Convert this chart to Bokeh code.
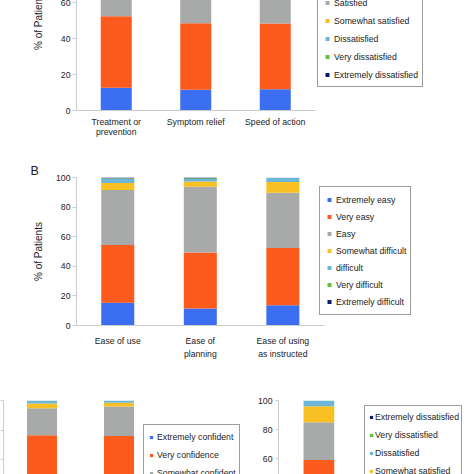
from bokeh.plotting import figure
from bokeh.models import (Range1d, FixedTicker, Legend, LegendItem, ColumnDataSource)
from bokeh.layouts import column, row
from bokeh.embed import file_html
from bokeh.resources import INLINE

FONT = "Liberation Sans"
TXT = "#222222"
AXC = "#cccccc"
COLORS = ["#3b6ef0", "#fd5a1e", "#a8aaa9", "#f9c023", "#6cb6d8", "#62c13b", "#0b1a72"]

# ---------------- Panel A : satisfaction ----------------
a_categories = ["Treatment or\nprevention", "Symptom relief", "Speed of action"]
a_levels = ["Extremely satisfied", "Very satisfied", "Satisfied", "Somewhat satisfied",
            "Dissatisfied", "Very dissatisfied", "Extremely dissatisfied"]
a_extremely_satisfied = [12.6, 11.5, 11.8]
a_very_satisfied = [39.8, 37.0, 36.5]
a_satisfied = [38.6, 41.5, 40.7]
a_somewhat_satisfied = [6.0, 6.5, 7.5]
a_dissatisfied = [2.0, 2.5, 2.5]
a_very_dissatisfied = [0.5, 0.5, 0.5]
a_extremely_dissatisfied = [0.5, 0.5, 0.5]

# ---------------- Panel B : ease ----------------
b_categories = ["Ease of use", "Ease of\nplanning", "Ease of using\nas instructed"]
b_levels = ["Extremely easy", "Very easy", "Easy", "Somewhat difficult", "difficult",
            "Very difficult", "Extremely difficult"]
b_extremely_easy = [15.3, 11.5, 13.7]
b_very_easy = [39.1, 37.9, 38.7]
b_easy = [37.1, 44.3, 37.3]
b_somewhat_difficult = [4.8, 3.6, 7.2]
b_difficult = [2.9, 1.7, 3.1]
b_very_difficult = [0.3, 0.5, 0.0]
b_extremely_difficult = [0.5, 0.5, 0.0]

# ---------------- Panel C : confidence ----------------
c_categories = ["Confidence in\ncorrect use", "Confidence in\neffectiveness"]
c_levels = ["Extremely confident", "Very confidence", "Somewhat confident",
            "Not very confident", "Not at all confident"]
c_extremely_confident = [20.0, 18.0]
c_very_confidence = [56.5, 58.0]
c_somewhat_confident = [18.3, 20.0]
c_not_very_confident = [3.2, 2.4]
c_not_at_all_confident = [2.0, 1.6]

# ---------------- Panel D : overall satisfaction ----------------
d_categories = ["Overall satisfaction"]
d_levels = a_levels
d_extremely_satisfied = [12.0]
d_very_satisfied = [47.2]
d_satisfied = [25.9]
d_somewhat_satisfied = [11.0]
d_dissatisfied = [3.9]
d_very_dissatisfied = [0.0]
d_extremely_dissatisfied = [0.0]

y_ticks = [0, 20, 40, 60, 80, 100]


def make_panel(cats, levels, series, width, height, bl, bt, bb, px_per_cat, y_start,
               bar_w, ylabel, xaxis_visible, label_standoff_x, tick_standoff_y,
               tick_out_y, line_h):
    n = len(cats)
    frame_w = width - bl
    p = figure(x_range=Range1d(-0.5, -0.5 + frame_w / px_per_cat),
               y_range=Range1d(y_start, 100),
               width=width, height=height, output_backend="svg",
               toolbar_location=None, min_border_left=bl, min_border_right=0,
               min_border_top=bt, min_border_bottom=bb)
    p.outline_line_color = None
    p.xgrid.visible = False
    p.ygrid.visible = False
    xs = list(range(n))
    data = {"x": xs}
    for lev, vals in zip(levels, series):
        data[lev] = vals
    src = ColumnDataSource(data)
    p.vbar_stack(levels, x="x", width=bar_w, fill_color=COLORS[:len(levels)],
                 line_color=None, source=src)

    ya = p.yaxis[0]
    ya.ticker = FixedTicker(ticks=y_ticks)
    ya.axis_line_color = AXC
    ya.major_tick_line_color = AXC
    ya.major_tick_out = tick_out_y
    ya.major_tick_in = 0
    ya.minor_tick_line_color = None
    ya.major_label_standoff = tick_standoff_y
    ya.major_label_text_font = FONT
    ya.major_label_text_font_size = "8.7px"
    ya.major_label_text_color = TXT
    if ylabel:
        ya.axis_label = ylabel
        ya.axis_label_text_font = FONT
        ya.axis_label_text_font_size = "10px"
        ya.axis_label_text_font_style = "normal"
        ya.axis_label_text_color = TXT
        ya.axis_label_standoff = 9

    xa = p.xaxis[0]
    xa.visible = xaxis_visible
    xa.ticker = FixedTicker(ticks=xs)
    xa.major_label_overrides = {i: c for i, c in enumerate(cats)}
    xa.bounds = (-0.5, n - 0.5)
    xa.axis_line_color = AXC
    xa.major_tick_line_color = None
    xa.minor_tick_line_color = None
    xa.major_tick_out = 0
    xa.major_tick_in = 0
    xa.major_label_standoff = label_standoff_x
    xa.major_label_text_font = FONT
    xa.major_label_text_font_size = "8.7px"
    xa.major_label_text_color = TXT
    xa.major_label_text_line_height = line_h
    return p, src


def add_legend(p, src, levels, order, x, y, padding, gw, gh, spacing, standoff):
    items = []
    for i in order:
        # zero-size markers: invisible in the plot, give the legend its coloured square
        r = p.scatter(x="x", y=levels[i], source=src, marker="square", size=0,
                      fill_color=COLORS[i], line_color=None)
        items.append(LegendItem(label=levels[i], renderers=[r]))
    lg = Legend(items=items, location=(x, y), padding=padding, glyph_width=gw,
                glyph_height=gh, label_height=gh, spacing=spacing,
                label_standoff=standoff, border_line_color="#3a3a3a",
                border_line_width=1.5, background_fill_color="white",
                background_fill_alpha=1.0, label_text_font=FONT,
                label_text_font_size="8.7px", label_text_color=TXT, margin=0)
    p.add_layout(lg, "center")
    return lg


figA, srcA = make_panel(a_categories, a_levels,
                        [a_extremely_satisfied, a_very_satisfied, a_satisfied,
                         a_somewhat_satisfied, a_dissatisfied, a_very_dissatisfied,
                         a_extremely_dissatisfied],
                        474, 230, 76, 0, 50, 79.5, 0, 0.39, "% of Patients", True, 6, 2, 4, 1.05)
add_legend(figA, srcA, a_levels, range(7), 241, 23, 4, 10, 15, 3, 2)
figA.margin = (-70, 0, 0, 0)

figB, srcB = make_panel(b_categories, b_levels,
                        [b_extremely_easy, b_very_easy, b_easy, b_somewhat_difficult,
                         b_difficult, b_very_difficult, b_extremely_difficult],
                        474, 210, 75, 17, 45, 82.75, 0, 0.40, "% of Patients", True, 10, 2, 4, 1.35)
add_legend(figB, srcB, b_levels, range(7), 243, 10, 4, 10, 17, 0, 2)
figB.title.text = "B"
figB.title.align = "left"
figB.title.offset = -46
figB.title.standoff = 0
figB.title.text_font = FONT
figB.title.text_font_size = "12.5px"
figB.title.text_font_style = "normal"
figB.title.text_color = TXT

figC, srcC = make_panel(c_categories, c_levels,
                        [c_extremely_confident, c_very_confidence, c_somewhat_confident,
                         c_not_very_confident, c_not_at_all_confident],
                        310, 104, 63, 30, 0, 77.0, 100 - 74 / 1.475, 0.39, None, False, 6, 3, 3, 1.22)
add_legend(figC, srcC, c_levels, range(5), 140, -48, 3, 8, 18, 0, 2)
figC.margin = (0, 0, 0, -60)

figD, srcD = make_panel(d_categories, d_levels,
                        [d_extremely_satisfied, d_very_satisfied, d_satisfied,
                         d_somewhat_satisfied, d_dissatisfied, d_very_dissatisfied,
                         d_extremely_dissatisfied],
                        224, 104, 28, 30, 0, 80.8, 100 - 74 / 1.458, 0.38, None, False, 6, 3, 3, 1.22)
add_legend(figD, srcD, d_levels, list(range(6, -1, -1)), 86, -63, 2, 8, 18, 0, 0)

root = column(figA, figB, row(figC, figD))

open("out.html", "w").write(file_html(root, INLINE))
